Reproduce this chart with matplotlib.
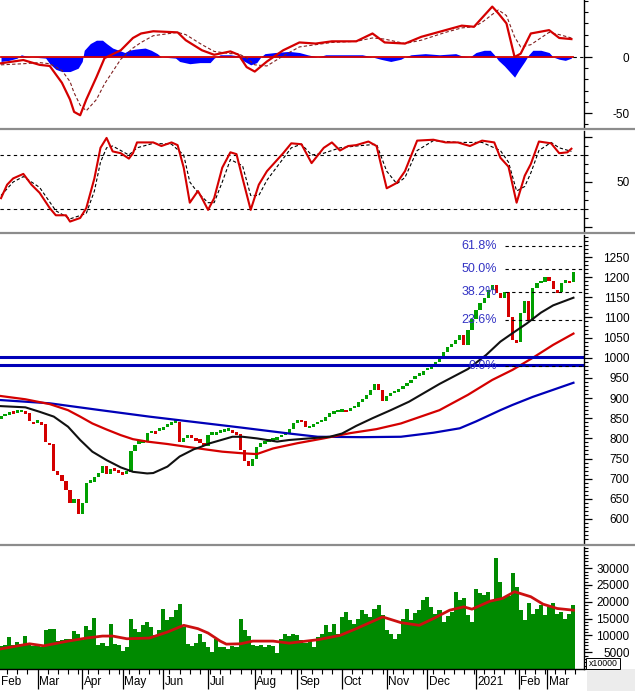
import numpy as np
import matplotlib
matplotlib.use('Agg')
import matplotlib.pyplot as plt
from matplotlib.lines import Line2D
from matplotlib.patches import Rectangle
import matplotlib.transforms as mtransforms

plt.rcParams['font.family'] = ['Liberation Sans', 'DejaVu Sans']

# ---------------- data ----------------
# one candle per two trading days, x = trading-day index
closes = [852, 858, 866, 864, 867, 868, 864, 843, 838, 841,
          836, 792, 786, 720, 708, 695, 672, 640, 650, 612,
          640, 690, 692, 703, 715, 732, 712, 724, 722, 718,
          713, 716, 768, 784, 789, 792, 813, 816, 815, 821,
          828, 832, 836, 841, 792, 800, 808, 804, 798, 788,
          780, 808, 812, 813, 817, 820, 822, 818, 812, 771,
          745, 732, 750, 778, 788, 790, 794, 797, 800, 806,
          812, 824, 837, 845, 843, 828, 828, 832, 838, 843,
          852, 862, 864, 868, 869, 868, 872, 878, 890, 898,
          907, 920, 936, 920, 893, 906, 913, 915, 922, 930,
          938, 946, 952, 958, 966, 972, 980, 990, 1002, 1014,
          1026, 1033, 1045, 1056, 1032, 1068, 1095, 1118, 1135, 1148,
          1168, 1180, 1160, 1148, 1163, 1100, 1045, 1040, 1110, 1140,
          1092, 1172, 1186, 1188, 1200, 1190, 1170, 1164, 1186, 1190,
          1188, 1214]

volumes = [6800, 7000, 9500, 7200, 8000, 7500, 9800, 7000, 6800, 7200,
           6500, 11500, 12000, 11800, 8200, 8500, 8800, 9000, 11300, 10400,
           8500, 12800, 11500, 15200, 7000, 7800, 6800, 13400, 7500, 7000,
           5500, 6500, 14800, 12000, 11000, 13000, 14000, 12500, 10000, 11500,
           18000, 14500, 15500, 17500, 19200, 12500, 7500, 6800, 7600, 10400,
           8000, 6500, 5200, 8800, 6400, 6600, 6000, 6800, 6500, 14900,
           11500, 9800, 7000, 6700, 7200, 6600, 7000, 6900, 4800, 8800,
           10500, 9800, 10300, 10000, 8500, 7800, 8300, 6600, 9500, 10300,
           13000, 11000, 13400, 10500, 15500, 17000, 14500, 13500, 15000, 17500,
           16300, 15500, 17800, 19000, 16000, 11500, 10500, 9000, 10500, 15000,
           17800, 14500, 16800, 17500, 20500, 21500, 18500, 16500, 17500, 14000,
           15800, 17000, 23000, 20500, 21000, 16000, 14000, 23800, 22500, 22000,
           23000, 20500, 33000, 26000, 21500, 21800, 28500, 24500, 17500, 14500,
           19500, 16500, 18000, 19000, 16000, 18500, 19500, 16500, 17000, 15000,
           16500, 19000]

ma_short_x = [0, 12, 19, 26, 33, 39, 45, 52, 59, 65, 72, 75, 82, 88, 95, 98, 103, 114, 119,
              126, 136, 142, 152, 162, 168, 175, 183, 192, 201, 216, 230, 239, 246, 252, 259,
              266, 272, 282]
ma_short_y = [880, 877, 866, 854, 829, 796, 767, 746, 728, 717, 713, 714, 730, 755, 773, 778,
              788, 804, 804, 800, 792, 796, 800, 804, 812, 831, 850, 870, 891, 935, 972, 1007,
              1040, 1061, 1085, 1112, 1130, 1149]

ma_mid_x = [0, 12, 24, 33, 39, 45, 52, 59, 65, 72, 82, 93, 109, 119, 126, 134, 146, 159, 172,
            185, 197, 216, 230, 242, 252, 262, 272, 282]
ma_mid_y = [905, 897, 885, 870, 854, 837, 822, 808, 798, 792, 786, 778, 767, 763, 761, 775,
            788, 800, 813, 823, 837, 870, 908, 945, 970, 1000, 1032, 1060]

ma_long_x = [0, 24, 49, 73, 98, 118, 142, 156, 178, 197, 213, 226, 234, 246, 252, 262, 282]
ma_long_y = [895, 887, 870, 854, 839, 827, 812, 804, 803, 804, 814, 825, 842, 870, 883, 903, 938]

support_levels = [1002, 982]
fib_names = ['61.8%', '50.0%', '38.2%', '23.6%', '0.0%']
fib_levels = [1277, 1220, 1163, 1093, 980]

vol_ma_x = [0, 14, 21, 33, 42, 50, 55, 62, 73, 82, 90, 97, 102, 108, 111, 118, 124, 134, 142,
            156, 167, 175, 188, 197, 206, 213, 221, 228, 232, 241, 247, 253, 261, 267, 274, 282]
vol_ma_y = [6000, 7500, 6900, 8300, 9200, 9800, 9800, 9000, 9200, 11000, 13000, 12000, 10700,
            8300, 7400, 7500, 8300, 8300, 7700, 8700, 10000, 12000, 15500, 13800, 13000, 15000,
            17500, 18500, 17800, 20200, 21000, 23000, 21500, 19300, 18000, 17500]

macd_x = [0, 11, 19, 24, 30, 34, 36, 39, 42, 47, 51, 59, 65, 69, 75, 87, 91, 99, 105, 113, 117,
          121, 125, 131, 139, 147, 155, 163, 175, 183, 189, 199, 207, 219, 227, 233, 237, 242,
          245, 249, 253, 256, 261, 270, 275, 281]
macd_y = [-5.6, -2.7, -7, -8, -23, -38, -49, -52, -38, -18, -1, 6, 17, 21, 23, 22, 15, 6, 2, 5, 2,
          -9, -13, -4, 6, 13, 12, 14, 14, 21, 13, 12, 18, 24, 28, 27, 35, 45, 39, 30, 0, 3, 21,
          24, 17, 16]
macd_sig = [-7, -6, -5, -6, -12, -22, -32, -43, -48, -38, -24, -2, 8, 13, 19, 22, 20, 11, 5, 3, 3,
            -1, -7, -8, 1, 9, 11, 13, 14, 17, 16, 12, 15, 22, 26, 27, 31, 38, 42, 37, 18, 9, 11,
            22, 20, 17]

hist_x = [0, 4, 8, 10, 12, 15, 22, 24, 27, 30, 34, 38, 40, 41, 44, 47, 50, 52, 55, 58, 61, 63,
          66, 71, 74, 77, 79, 86, 88, 93, 98, 103, 105, 108, 113, 117, 119, 123, 126, 128, 130,
          135, 142, 147, 151, 156, 160, 165, 172, 178, 183, 187, 192, 197, 199, 202, 209, 216,
          224, 227, 231, 234, 238, 241, 243, 245, 248, 251, 253, 255, 258, 260, 262, 266, 270,
          272, 275, 278, 281]
hist_y = [-4, -3, -1, 2, 1, 0, -1, -6, -11, -13, -13, -10, -4, 6, 12, 15, 15, 12, 8, 6, 4, 6,
          7, 8, 6, 3, 0, -1, -4, -6, -5, -5, -1, 2, 2, 1, -3, -7, -5, 0, 3,
          4, 5, 4, 2, 0, 2, 2, 2, 2, 0, -2, -4, -2, 0, 2, 3, 2,
          3, 1, 0, 4, 6, 6, 2, -3, -8, -14, -18, -12, -4, 2, 6, 6, 4,
          0, -2, -3, -1]

stoch_x = [0, 3, 6, 11, 15, 19, 24, 27, 32, 34, 39, 42, 46, 49, 52, 55, 59, 63, 65, 67, 75, 79,
           84, 87, 90, 93, 97, 99, 102, 105, 109, 113, 116, 119, 123, 127, 131, 139, 143, 148,
           153, 159, 163, 167, 171, 175, 181, 185, 190, 195, 199, 205, 213, 219, 225, 231, 237,
           243, 246, 250, 254, 258, 261, 265, 271, 275, 279, 281]
stoch_y = [32, 47, 54, 59, 47, 38, 21, 13, 13, 6, 10, 21, 54, 88, 99, 84, 82, 76, 82, 94, 94, 90,
           94, 91, 66, 27, 40, 32, 19, 32, 66, 83, 81, 54, 19, 47, 62, 82, 93, 92,
           71, 88, 94, 85, 90, 91, 95, 90, 43, 49, 62, 96, 97, 94, 94, 90, 96,
           94, 77, 67, 27, 57, 70, 95, 93, 82, 83, 87]
stoch_sig_x = [0, 6, 11, 19, 27, 34, 42, 46, 49, 52, 55, 63, 67, 75, 84, 90, 93, 97, 102, 105,
               109, 113, 119, 123, 127, 131, 139, 143, 148, 153, 159, 167, 175, 185, 190, 195,
               199, 205, 213, 225, 237, 246, 250, 254, 258, 261, 265, 271, 275, 281]
stoch_sig_y = [35, 50, 56, 44, 18, 9, 15, 40, 72, 88, 90, 80, 88, 93, 92, 80, 50, 38, 27, 27,
               50, 75, 68, 35, 35, 52, 76, 88, 92, 80, 82, 88, 90, 92, 62, 48,
               55, 85, 96, 94, 94, 85, 72, 40, 45, 60, 85, 94, 88, 84]

month_days = [18, 40, 60, 80, 102, 125, 146, 168, 190, 210, 234, 255, 269]
month_names = ['Mar', 'Apr', 'May', 'Jun', 'Jul', 'Aug', 'Sep', 'Oct', 'Nov', 'Dec',
               '2021', 'Feb', 'Mar']

# ---------------- layout (pixel based) ----------------
W, H = 635, 691
fig = plt.figure(figsize=(W / 100, H / 100), dpi=100)
fig.patch.set_facecolor('white')
X_RIGHT = 584


def add_panel(top, bottom):
    return fig.add_axes([0, 1 - bottom / H, X_RIGHT / W, (bottom - top) / H])


ax_macd = add_panel(0, 127)
ax_sto = add_panel(131, 232)
ax_px = add_panel(235, 543)
ax_vol = add_panel(547, 669)

days = np.arange(len(closes)) * 2
XMIN, XMAX = -0.5, 287.2

RED = '#d40000'
GREEN = '#00a000'
BLUE = '#0000b8'
FIB = '#3434c4'


def style_right(ax, major, minor, labels, ylim):
    ax.set_xlim(XMIN, XMAX)
    ax.set_ylim(*ylim)
    for s in ['top', 'left', 'bottom']:
        ax.spines[s].set_visible(False)
    ax.spines['right'].set_linewidth(1.0)
    ax.yaxis.tick_right()
    ax.set_yticks(major)
    ax.set_yticks(minor, minor=True)
    ax.set_yticklabels(labels)
    ax.tick_params(axis='y', which='major', length=5.8, width=0.9, pad=27, labelsize=8.5)
    ax.tick_params(axis='y', which='minor', length=2.8, width=0.8)
    for lbl in ax.get_yticklabels():
        lbl.set_horizontalalignment('right')
    ax.set_xticks([])


# ---- MACD ----
ax_macd.fill_between(hist_x, hist_y, 0, color='#0000ff', linewidth=0)
ax_macd.plot([0, days[-1]], [0, 0], color=RED, lw=1.3)
ax_macd.plot([days[-1], XMAX], [0, 0], color='black', lw=0.8, ls=(0, (3, 3)))
ax_macd.plot(macd_x, macd_sig, color='#802020', lw=0.8, ls=(0, (3, 2)))
ax_macd.plot(macd_x, macd_y, color=RED, lw=1.6)
style_right(ax_macd, [-50, 0], np.arange(-60, 51, 10), ['-50', '0'], (-62.5, 50.9))

# ---- Stochastic ----
for lvl in [80, 20]:
    ax_sto.axhline(lvl, color='black', lw=0.8, ls=(0, (3, 3)))
ax_sto.plot(stoch_sig_x, stoch_sig_y, color='black', lw=0.8, ls=(0, (3, 2)))
ax_sto.plot(stoch_x, stoch_y, color=RED, lw=1.5)
style_right(ax_sto, [0, 50, 100], np.arange(0, 101, 10), ['', '50', ''], (-5.6, 106.7))

# ---- Price ----
opens = [closes[0]] + closes[:-1]
for d, o, c in zip(days, opens, closes):
    up = c >= o
    body = c - o
    if abs(body) < 7:
        body = 7 if up else -7
        o = c - body / 2 if up else c + abs(body) / 2
    ax_px.bar(d, body, bottom=o, width=1.6, color=GREEN if up else RED, linewidth=0)

ax_px.plot(ma_long_x, ma_long_y, color=BLUE, lw=1.6)
ax_px.plot(ma_mid_x, ma_mid_y, color=RED, lw=1.6)
ax_px.plot(ma_short_x, ma_short_y, color='#111111', lw=1.5)
for lvl in support_levels:
    ax_px.axhline(lvl, color=BLUE, lw=2.2)
for name, lvl in zip(fib_names, fib_levels):
    ax_px.plot([248.3, XMAX], [lvl, lvl], color='black', lw=0.8, ls=(0, (3, 3)))
    ax_px.text(244.3, lvl, name, color=FIB, fontsize=9, ha='right', va='center')
style_right(ax_px, np.arange(600, 1251, 50), np.arange(550, 1301, 10),
            [str(v) for v in range(600, 1251, 50)], (540.4, 1304.6))

# ---- Volume ----
ax_vol.bar(days, volumes, width=2.0, color='#008a00', linewidth=0)
ax_vol.plot(vol_ma_x, vol_ma_y, color='#cc1010', lw=2.0)
style_right(ax_vol, np.arange(5000, 30001, 5000), np.arange(0, 36001, 1000),
            [str(v) for v in range(5000, 30001, 5000)], (0, 36300))
ax_vol.spines['bottom'].set_visible(True)
ax_vol.spines['bottom'].set_linewidth(1.0)
ax_vol.set_xticks(month_days)
ax_vol.set_xticks(np.arange(3, 285, 5), minor=True)
ax_vol.set_xticklabels([])
ax_vol.tick_params(axis='x', which='major', length=14.4, width=0.9, direction='out')
ax_vol.tick_params(axis='x', which='minor', length=3.6, width=0.8, direction='out')

trans = mtransforms.blended_transform_factory(ax_vol.transData, ax_vol.transAxes)
ax_vol.text(0.0, -0.107, 'Feb', transform=trans, fontsize=8.5, ha='left', va='center')
for d, name in zip(month_days, month_names):
    ax_vol.text(d + 0.8, -0.107, name, transform=trans, fontsize=8.5, ha='left', va='center')

# panel separators
for y in [129, 233.5, 545]:
    fig.add_artist(Line2D([0, 1], [1 - y / H, 1 - y / H], transform=fig.transFigure,
                          color='#8c8c8c', lw=1.6))

# bottom right corner
fig.add_artist(Rectangle((587 / W, 0), (W - 587) / W, (H - 669) / H, transform=fig.transFigure,
                         facecolor='#ececec', edgecolor='none'))
fig.add_artist(Rectangle((586 / W, 1 - 669 / H), 34 / W, 11 / H, transform=fig.transFigure,
                         facecolor='white', edgecolor='black', lw=0.7))
fig.text(603 / W, 1 - 663.5 / H, 'x10000', fontsize=6.3, ha='center', va='center')

fig.savefig('out.png', dpi=100)
